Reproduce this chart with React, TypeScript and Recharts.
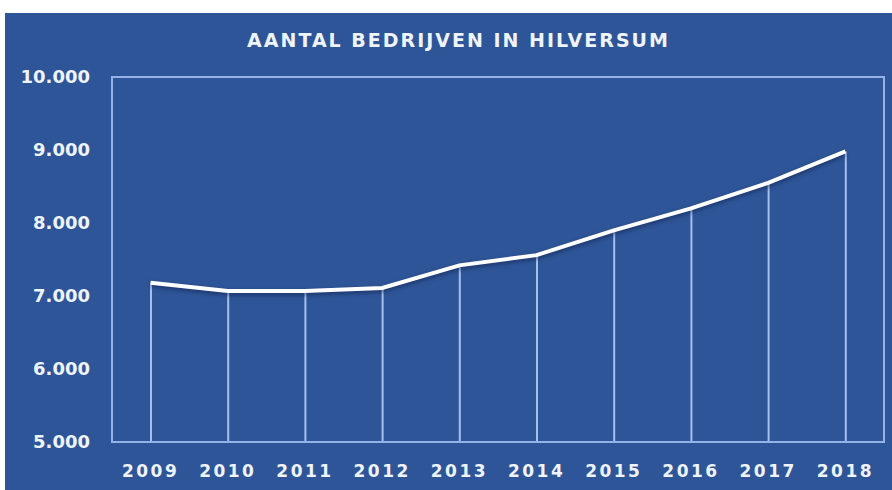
import React, { useEffect } from 'react';
import { ComposedChart, Line, Bar, XAxis, YAxis, ReferenceArea } from 'recharts';

const years = ['2009', '2010', '2011', '2012', '2013', '2014', '2015', '2016', '2017', '2018'];
const bedrijven = [7180, 7070, 7070, 7110, 7420, 7560, 7900, 8200, 8550, 8980];
const yTicks = [5000, 6000, 7000, 8000, 9000, 10000];

const data = years.map((year, i) => ({ year, value: bedrijven[i] }));

const fmt = (v: number) => `${Math.floor(v / 1000)}.${String(v % 1000).padStart(3, '0')}`;

const textColor = '#eef3fc';
const frameColor = '#93b2e8';
const font = 'DejaVu Sans, Verdana, sans-serif';

export default function App() {
  useEffect(() => {
    document.body.style.margin = '0';
  }, []);

  return (
    <div style={{ position: 'relative', width: 892, height: 490, background: '#ffffff', overflow: 'hidden' }}>
      <div style={{ position: 'absolute', left: 5, top: 13, width: 887, height: 477, background: '#2e5597' }}>
        <div
          style={{
            position: 'absolute',
            top: 15,
            left: 10,
            width: 887,
            textAlign: 'center',
            color: textColor,
            fontFamily: font,
            fontWeight: 700,
            fontSize: 19,
            lineHeight: '24px',
            letterSpacing: 2,
          }}
        >
          AANTAL BEDRIJVEN IN HILVERSUM
        </div>
        <ComposedChart
          width={887}
          height={477}
          data={data}
          margin={{ top: 64, right: 8, bottom: 0, left: 0 }}
          barCategoryGap={0}
        >
          <XAxis
            dataKey="year"
            height={48}
            axisLine={{ stroke: frameColor, strokeWidth: 2 }}
            tickLine={false}
            tickSize={0}
            tickMargin={23}
            tick={{ fill: textColor, fontSize: 17, fontWeight: 700, fontFamily: font, letterSpacing: 2.5 }}
          />
          <YAxis
            domain={[5000, 10000]}
            ticks={yTicks}
            width={107}
            axisLine={{ stroke: frameColor, strokeWidth: 2 }}
            tickLine={false}
            tickSize={0}
            tickMargin={22}
            tickFormatter={fmt}
            tick={{ fill: textColor, fontSize: 18, fontWeight: 700, fontFamily: font }}
            allowDataOverflow
          />
          <ReferenceArea y1={5000} y2={10000} fill="none" stroke={frameColor} strokeWidth={2} ifOverflow="visible" />
          <Bar dataKey="value" barSize={2} fill="#a6c0ee" isAnimationActive={false} />
          <Line
            type="linear"
            dataKey="value"
            stroke="#ffffff"
            strokeWidth={4}
            dot={false}
            activeDot={false}
            style={{ filter: 'drop-shadow(0px 2px 2px rgba(10,20,60,0.55))' }}
            isAnimationActive={false}
          />
        </ComposedChart>
      </div>
    </div>
  );
}
